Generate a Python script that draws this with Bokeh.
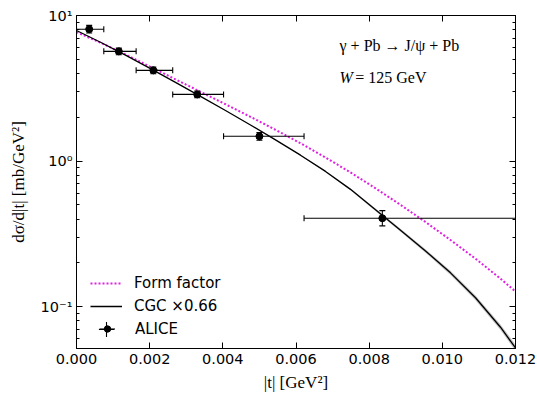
from bokeh.plotting import figure
from bokeh.models import (ColumnDataSource, Range1d, FixedTicker, LinearAxis, LogAxis,
                          Legend, LegendItem, Label, PrintfTickFormatter,
                          CustomJSTickFormatter)
from bokeh.embed import file_html
from bokeh.resources import INLINE

# ---------------- data ----------------
ff_t = [0.0, 0.000656, 0.001339, 0.002023, 0.002706, 0.003390, 0.004073,
        0.004756, 0.005440, 0.006123, 0.006807, 0.007490, 0.008173, 0.008857,
        0.009540, 0.010223, 0.010907, 0.011590, 0.012]
ff_y = [7.686, 6.506, 5.404, 4.438, 3.644, 2.992, 2.457, 2.013, 1.640, 1.3257,
        1.0586, 0.8355, 0.6504, 0.5005, 0.3813, 0.2870, 0.2136, 0.1557, 0.1271]

cgc_t = ff_t[:]  # same |t| sampling as read for the form factor
cgc_y = [7.891, 6.553, 5.339, 4.314, 3.473, 2.785, 2.225, 1.770, 1.399, 1.098,
         0.8493, 0.6394, 0.4628, 0.3350, 0.2415, 0.1707, 0.1151, 0.07225, 0.05215]
cgc_band = [0.0, 0.0, 0.0, 0.0, 0.0, 0.0, 0.0, 0.003, 0.005, 0.008, 0.011,
            0.015, 0.019, 0.023, 0.027, 0.032, 0.037, 0.044, 0.05]

alice_t = [0.000347, 0.001156, 0.00210, 0.00330, 0.00500, 0.00836]
alice_tlo = [0.0, 0.000746, 0.00163, 0.00263, 0.00402, 0.00622]
alice_thi = [0.000746, 0.00163, 0.00263, 0.00402, 0.00622, 0.0125]
alice_y = [8.05, 5.67, 4.20, 2.87, 1.48, 0.405]
alice_ylo = [7.58, 5.37, 3.98, 2.72, 1.39, 0.359]
alice_yhi = [8.55, 5.97, 4.43, 3.03, 1.57, 0.457]

x_ticks = [0.0, 0.002, 0.004, 0.006, 0.008, 0.010, 0.012]
y_ticks = [0.1, 1.0, 10.0]
y_minor = [0.06, 0.07, 0.08, 0.09, 0.2, 0.3, 0.4, 0.5, 0.6, 0.7, 0.8, 0.9,
           2, 3, 4, 5, 6, 7, 8, 9]

# ---------------- figure ----------------
p = figure(width=537, height=394, x_range=Range1d(0.0, 0.012),
           y_range=Range1d(0.0516, 10.0), y_axis_type="log",
           output_backend="svg", toolbar_location=None,
           min_border_left=76, min_border_right=22, min_border_top=15,
           min_border_bottom=45)
p.grid.visible = False
p.outline_line_color = "black"
p.outline_line_width = 1
p.background_fill_color = "white"
p.border_fill_color = "white"
# a range that holds none of the data: used only for legend glyphs
p.extra_x_ranges = {"legend_only": Range1d(1.0, 2.0)}

sup_js = """
const e = Math.round(Math.log10(tick));
const m = {"-1": "\u207b\u00b9", "0": "\u2070", "1": "\u00b9"};
return "10" + (m[String(e)] || String(e));
"""

def style_axis(ax, minor=True):
    ax.axis_line_color = "black"
    ax.major_tick_line_color = "black"
    ax.major_tick_in = 6
    ax.major_tick_out = 0
    if minor:
        ax.minor_tick_line_color = "black"
        ax.minor_tick_in = 3
        ax.minor_tick_out = 0
    else:
        ax.minor_tick_line_color = None
    ax.major_label_text_font = "DejaVu Sans"
    ax.major_label_text_font_size = "14.5px"
    ax.major_label_text_color = "black"
    ax.axis_label_text_color = "black"

xa = p.xaxis[0]
xa.ticker = FixedTicker(ticks=x_ticks)
xa.formatter = PrintfTickFormatter(format="%.3f")
style_axis(xa, minor=False)
xa.major_label_standoff = 5
xa.axis_label = "|t| [GeV\u00b2]"
xa.axis_label_text_font = "Liberation Serif"
xa.axis_label_text_font_style = "normal"
xa.axis_label_text_font_size = "17px"
xa.axis_label_standoff = 6

ya = p.yaxis[0]
ya.ticker = FixedTicker(ticks=y_ticks, minor_ticks=y_minor)
ya.formatter = CustomJSTickFormatter(code=sup_js)
style_axis(ya)
ya.major_label_standoff = 4
ya.axis_label = "d\u03c3/d|t| [mb/GeV\u00b2]"
ya.axis_label_text_font = "Liberation Serif"
ya.axis_label_text_font_style = "normal"
ya.axis_label_text_font_size = "17px"
ya.axis_label_standoff = 10

top = LinearAxis(ticker=FixedTicker(ticks=x_ticks),
                 formatter=CustomJSTickFormatter(code="return ''"))
style_axis(top, minor=False)
top.major_label_standoff = 0
p.add_layout(top, "above")

right = LogAxis(ticker=FixedTicker(ticks=y_ticks, minor_ticks=y_minor),
                formatter=CustomJSTickFormatter(code="return ''"))
style_axis(right)
right.major_label_standoff = 0
p.add_layout(right, "right")

# ---------------- curves ----------------
band_lo = [y * (1 - b) for y, b in zip(cgc_y, cgc_band)]
band_hi = [y * (1 + b) for y, b in zip(cgc_y, cgc_band)]
p.varea(x=cgc_t, y1=band_lo, y2=band_hi, fill_color="#bdbdbd", fill_alpha=0.9)

r_ff = p.line(ff_t, ff_y, line_color="#e020e0", line_width=2, line_dash="2 2")
r_cgc = p.line(cgc_t, cgc_y, line_color="black", line_width=1.3)

# ---------------- ALICE points with error bars ----------------
src = ColumnDataSource(dict(t=alice_t, y=alice_y, tlo=alice_tlo, thi=alice_thi,
                            ylo=alice_ylo, yhi=alice_yhi))
ew = 1.1
r_xerr = p.segment(x0="tlo", y0="y", x1="thi", y1="y", source=src,
                   line_color="black", line_width=ew)
p.segment(x0="t", y0="ylo", x1="t", y1="yhi", source=src, line_color="black", line_width=ew)
p.scatter(x="tlo", y="y", source=src, marker="dash", angle=1.5708, size=6,
          line_color="black", line_width=ew)
p.scatter(x="thi", y="y", source=src, marker="dash", angle=1.5708, size=6,
          line_color="black", line_width=ew)
p.scatter(x="t", y="ylo", source=src, marker="dash", size=6, line_color="black", line_width=ew)
p.scatter(x="t", y="yhi", source=src, marker="dash", size=6, line_color="black", line_width=ew)
r_pts = p.scatter(x="t", y="y", source=src, marker="circle", size=7,
                  fill_color="black", line_color="black")
# legend-only error-bar cross (its x range holds none of the points)
r_cross = p.scatter(x="t", y="y", source=src, marker="cross",
                    line_color="black", line_width=ew, x_range_name="legend_only")

legend1 = Legend(items=[LegendItem(label="Form factor", renderers=[r_ff]),
                        LegendItem(label="CGC \u00d70.66", renderers=[r_cgc])],
                 location=(14, 32.5), orientation="vertical")
legend2 = Legend(items=[LegendItem(label="ALICE", renderers=[r_xerr, r_pts])],
                 location=(23, 9.5), orientation="vertical")
# icon of the error-bar cross of the ALICE entry (big glyph box -> longer bars)
legend3 = Legend(items=[LegendItem(label=" ", renderers=[r_cross])],
                 location=(11, 0.5), orientation="vertical")
for lg, gw, gh, ls in ((legend1, 32, 20, 12), (legend2, 16, 17, 20),
                       (legend3, 38, 38, 0)):
    lg.border_line_alpha = 0
    lg.background_fill_alpha = 0
    lg.padding = 0
    lg.margin = 0
    lg.spacing = 3
    lg.glyph_width = gw
    lg.glyph_height = gh
    lg.label_height = 20
    lg.label_standoff = ls
    lg.label_text_font = "DejaVu Sans"
    lg.label_text_font_size = "15px"
    lg.label_text_color = "black"
    p.add_layout(lg)

# ---------------- annotations ----------------
p.add_layout(Label(x=0.00719, y=6.23, text="\u03b3 + Pb \u2192 J/\u03c8 + Pb",
                   text_font="Liberation Serif", text_font_size="16px",
                   text_baseline="middle", text_color="black"))
p.add_layout(Label(x=0.00719, y=3.76, text="W",
                   text_font="Liberation Serif", text_font_size="16px",
                   text_font_style="italic",
                   text_baseline="middle", text_color="black"))
p.add_layout(Label(x=0.00762, y=3.76, text="= 125 GeV",
                   text_font="Liberation Serif", text_font_size="16px",
                   text_baseline="middle", text_color="black"))

open("out.html", "w").write(file_html(p, INLINE))
